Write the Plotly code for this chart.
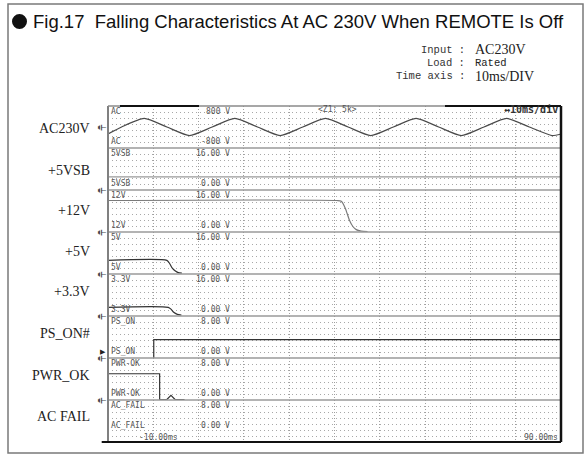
import plotly.graph_objects as go

# ---------------- data ----------------
channels = ["AC", "5VSB", "12V", "5V", "3.3V", "PS_ON", "PWR-OK", "AC_FAIL"]
side_labels = ["AC230V", "+5VSB", "+12V", "+5V", "+3.3V", "PS_ON#", "PWR_OK", "AC FAIL"]
range_lo = [-800, 0, 0, 0, 0, 0, 0, 0]
range_hi = [800, 16, 16, 16, 16, 8, 8, 8]
hi_text = ["800 V", "16.00 V", "16.00 V", "16.00 V", "16.00 V", "8.00 V", "8.00 V", "8.00 V"]
lo_text = ["-800 V", "0.00 V", "0.00 V", "0.00 V", "0.00 V", "0.00 V", "0.00 V", "0.00 V"]
cond_names = ["Input :", "Load :", "Time axis :"]
cond_values = ["AC230V", "Rated", "10ms/DIV"]

# time in ms, voltage in V
ac_t = [-10, -7, -2, 3, 8, 13, 18, 23, 28, 33, 38, 43, 48, 53, 58, 63, 68, 73, 78, 83, 88, 90]
ac_v = [-265, 0, 325, 0, -325, 0, 325, 0, -325, 0, 325, 0, -325, 0, 325, 0, -325, 0, 325, 0, -325, -265]

vsb_t = [-10, 90]
vsb_v = [5.0, 5.0]

v12_t = [-10, 40.6, 41.5, 42.4, 43.3, 44.1, 44.8, 45.9, 47.3]
v12_v = [12.0, 12.0, 11.7, 9.0, 4.5, 2.0, 0.9, 0.3, 0.2]

v5_t = [-10, 3.0, 3.6, 4.2, 4.8, 5.5, 6.3]
v5_v = [5.2, 5.2, 4.0, 2.2, 1.2, 0.5, 0.3]

v33_t = [-10, 3.3, 3.9, 4.5, 5.3, 6.2]
v33_v = [3.3, 3.3, 2.6, 1.4, 0.6, 0.3]

pson_t = [0.1, 0.1, 90]
pson_v = [0.0, 3.5, 3.5]

pwrok_t = [-10, 1.4, 1.4, 3.0, 3.9, 4.8, 6.9]
pwrok_v = [5.0, 5.0, 0.1, 0.1, 0.9, 0.1, 0.1]

acfail_t = [-10, 90]
acfail_v = [0.0, 0.0]

series = [
    (ac_t, ac_v, "#4a4a4a", "spline"),
    (vsb_t, vsb_v, "#9a9a9a", "linear"),
    (v12_t, v12_v, "#7a7a7a", "spline"),
    (v5_t, v5_v, "#333333", "spline"),
    (v33_t, v33_v, "#333333", "spline"),
    (pson_t, pson_v, "#333333", "linear"),
    (pwrok_t, pwrok_v, "#333333", "linear"),
    (acfail_t, acfail_v, "#222222", "linear"),
]

# ---------------- page geometry ----------------
W, H = 587, 457
L, R, T, B = 108, 26, 106, 15
PW, PH = W - L - R, H - T - B


def hx(px):
    return (px - L) / PW


def vy(py):
    return (H - B - py) / PH


N = len(channels)
fig = go.Figure()

for k, (t, v, col, shape) in enumerate(series):
    yname = "y" if k == 0 else f"y{k + 1}"
    fig.add_trace(go.Scatter(
        x=t, y=v, mode="lines", xaxis="x", yaxis=yname,
        line=dict(color=col, width=1.2, shape=shape, smoothing=0.6),
        hoverinfo="skip", showlegend=False,
    ))

layout = dict(
    width=W, height=H, autosize=False,
    margin=dict(l=L, r=R, t=T, b=B, pad=0),
    paper_bgcolor="white", plot_bgcolor="white",
    showlegend=False,
    xaxis=dict(range=[-10, 90], dtick=10, tick0=-10, showticklabels=False, ticks="",
               showgrid=True, gridcolor="#a0a0a0", griddash="1px,2px", gridwidth=1,
               zeroline=False, showline=False, anchor="y8", fixedrange=True),
)

annotations = []
scope_font = dict(family="DejaVu Sans Mono", size=8, color="#555555")
for k in range(N):
    key = "yaxis" if k == 0 else f"yaxis{k + 1}"
    ref = "y" if k == 0 else f"y{k + 1}"
    lo, hi = range_lo[k], range_hi[k]
    layout[key] = dict(
        domain=[1 - (k + 1) / N, 1 - k / N], range=[lo, hi],
        tick0=lo, dtick=(hi - lo) / 7, showticklabels=False, ticks="",
        showgrid=True, gridcolor="#a8a8a8", griddash="1px,3px", gridwidth=1,
        zeroline=False, showline=False, anchor="x", fixedrange=True,
    )
    # channel name + full-scale value at top, name + lower value at bottom
    annotations.append(dict(xref="x", yref=f"{ref} domain", x=-10, y=1, xanchor="left", yanchor="top",
                            xshift=1, yshift=1, text=channels[k], showarrow=False, font=scope_font))
    annotations.append(dict(xref="x", yref=f"{ref} domain", x=17.3, y=1, xanchor="right", yanchor="top",
                            yshift=1, text=hi_text[k], showarrow=False, font=scope_font))
    bottom_shift = 10 if k == N - 1 else 0
    annotations.append(dict(xref="x", yref=f"{ref} domain", x=-10, y=0, xanchor="left", yanchor="bottom",
                            xshift=1, yshift=bottom_shift, text=channels[k], showarrow=False, font=scope_font))
    annotations.append(dict(xref="x", yref=f"{ref} domain", x=17.3, y=0, xanchor="right", yanchor="bottom",
                            yshift=bottom_shift, text=lo_text[k], showarrow=False, font=scope_font))
    # ground marker at each channel's 0 V level
    if k < N - 1:
        annotations.append(dict(xref="x domain", yref=ref, x=0, y=0, xanchor="right", yanchor="middle",
                                xshift=1, text="⏚", textangle=90, showarrow=False,
                                font=dict(family="DejaVu Sans", size=10, color="#444444")))

# trigger marker on PS_ON
annotations.append(dict(xref="x domain", yref="y6", x=0, y=1.1, xanchor="right", yanchor="middle",
                        xshift=0, text="▶", showarrow=False,
                        font=dict(family="DejaVu Sans", size=7, color="#222222")))

# signal names at left
side_pos = [128.3, 170, 210, 251, 291.7, 333.3, 375, 416]
for name, py in zip(side_labels, side_pos):
    annotations.append(dict(xref="paper", yref="paper", x=hx(92), y=vy(py), xanchor="right", yanchor="middle",
                            text=name, showarrow=False,
                            font=dict(family="Liberation Serif", size=14, color="#222222")))

# scope header / footer texts
annotations += [
    dict(xref="paper", yref="paper", x=hx(337), y=vy(110), xanchor="center", yanchor="middle",
         text="&lt;Z1: 5k&gt;", showarrow=False, font=scope_font),
    dict(xref="paper", yref="paper", x=hx(560), y=vy(110), xanchor="right", yanchor="middle",
         text="<b>↔10ms/div</b>", showarrow=False,
         font=dict(family="DejaVu Sans Mono", size=10, color="#333333")),
    dict(xref="paper", yref="paper", x=hx(158), y=vy(437), xanchor="center", yanchor="middle",
         text="-10.00ms", showarrow=False, font=scope_font),
    dict(xref="paper", yref="paper", x=hx(560), y=vy(437), xanchor="right", yanchor="middle",
         text="90.00ms", showarrow=False, font=scope_font),
]

# figure title
annotations.append(dict(xref="paper", yref="paper", x=hx(31), y=vy(21), xanchor="left", yanchor="middle",
                        text="Fig.17  Falling Characteristics At AC 230V When REMOTE Is Off", showarrow=False,
                        font=dict(family="Liberation Sans", size=18.5, color="#111111")))

# test conditions: names right-aligned on the colon, values left-aligned after it
cond_rows = [50, 63, 76]
for name, val, py in zip(cond_names, cond_values, cond_rows):
    bold_val = val != "Rated"
    annotations.append(dict(xref="paper", yref="paper", x=hx(467), y=vy(py), xanchor="right", yanchor="middle",
                            text=name, showarrow=False,
                            font=dict(family="Liberation Mono", size=10.5, color="#333333")))
    annotations.append(dict(xref="paper", yref="paper", x=hx(473), y=vy(py), xanchor="left", yanchor="middle",
                            text=val, showarrow=False,
                            font=dict(family="Liberation Serif" if bold_val else "Liberation Mono",
                                      size=14 if bold_val else 10.5, color="#222222")))

shapes = []
# strip separators
for k in range(1, N):
    shapes.append(dict(type="line", xref="paper", yref="paper", x0=0, x1=1, y0=k / N, y1=k / N,
                       line=dict(color="#9a9a9a", width=1.5)))
# screen border
shapes += [
    dict(type="line", xref="paper", yref="paper", x0=0, x1=0, y0=0, y1=1, line=dict(color="#808080", width=2)),
    dict(type="line", xref="paper", yref="paper", x0=0, x1=1, y0=1, y1=1, line=dict(color="#8a8a8a", width=1.5)),
    dict(type="line", xref="paper", yref="paper", x0=hx(120), x1=hx(199), y0=1, y1=1, line=dict(color="#111111", width=2)),
    dict(type="line", xref="paper", yref="paper", x0=hx(445), x1=1, y0=1, y1=1, line=dict(color="#111111", width=2)),
    dict(type="line", xref="paper", yref="paper", x0=1, x1=1, y0=0, y1=1, line=dict(color="#111111", width=2.5)),
    dict(type="line", xref="paper", yref="paper", x0=hx(101.7), x1=1, y0=0, y1=0, line=dict(color="#111111", width=2)),
]
# title bullet
shapes.append(dict(type="circle", xref="paper", yref="paper", x0=hx(12), x1=hx(27), y0=vy(29), y1=vy(14),
                   fillcolor="#111111", line=dict(width=0)))
# outer frame
shapes.append(dict(type="rect", xref="paper", yref="paper", x0=hx(8), x1=hx(583), y0=vy(453), y1=vy(4),
                   line=dict(color="#7a7a7a", width=1.5)))

layout["annotations"] = annotations
layout["shapes"] = shapes
fig.update_layout(**layout)
fig.write_html("out.html")
